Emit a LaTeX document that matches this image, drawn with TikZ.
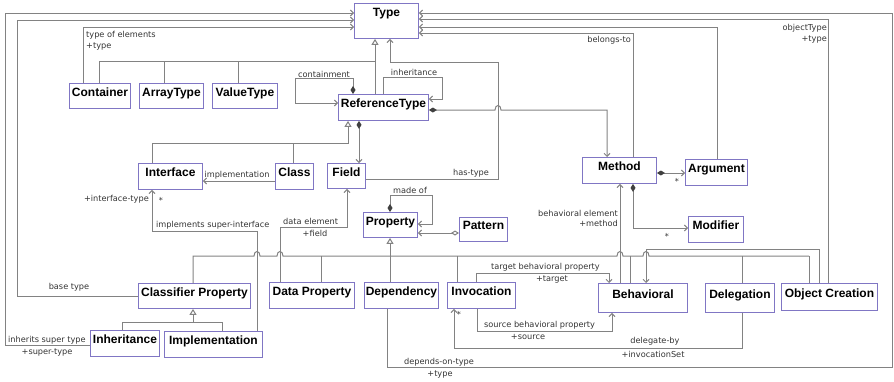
\documentclass[tikz,border=0pt]{standalone}
\usepackage{fontspec}
\usepackage{tikz}
\usetikzlibrary{arrows.meta}
\newfontfamily\clsfont{Liberation Sans}
\newfontfamily\lblfont{DejaVu Sans}
\definecolor{lgray}{RGB}{130,130,130}
\definecolor{clsborder}{RGB}{128,118,196}
\tikzset{
  cls/.style={draw=clsborder, fill=white, line width=0.9pt, inner sep=0pt, anchor=north west,
    minimum height=26pt, text height=9pt, text depth=8pt,
    font=\clsfont\bfseries\fontsize{12}{14}\selectfont},
  lbl/.style={font=\lblfont\fontsize{8.2}{9}\selectfont, text=black!80, inner sep=0pt},
  lnk/.style={draw=lgray, line width=1pt},
  assoc/.style={lnk, -{Straight Barb[length=3pt,width=6pt]}},
  gen/.style={lnk, -{Triangle[open,length=6pt,width=7pt,fill=white]}},
  comp/.style={lnk, {Diamond[length=8pt,width=5pt,color=black!75]}-{Straight Barb[length=3pt,width=6pt]}},
  aggr/.style={lnk, {Diamond[open,length=8pt,width=5pt,fill=white]}-{Straight Barb[length=3pt,width=6pt]}}
}

\begin{document}
\begin{tikzpicture}[x=1pt, y=-1pt]
  \useasboundingbox (0,0) rectangle (894,381);

  % classes
  \node[cls, minimum width=64pt, minimum height=35pt, text depth=17pt] (type) at (354,3) {Type};
  \node[cls, minimum width=61pt, minimum height=25pt] (container) at (69,83) {Container};
  \node[cls, minimum width=64pt, minimum height=25pt] (arraytype) at (139,83) {ArrayType};
  \node[cls, minimum width=65pt, minimum height=25pt] (valuetype) at (212,83) {ValueType};
  \node[cls, minimum width=90pt] (reftype) at (338,94) {ReferenceType};
  \node[cls, minimum width=64pt] (iface) at (138,163) {Interface};
  \node[cls, minimum width=38pt] (class) at (275,163) {Class};
  \node[cls, minimum width=38pt, minimum height=25pt] (field) at (327,163) {Field};
  \node[cls, minimum width=54pt, minimum height=25pt] (property) at (363,212) {Property};
  \node[cls, minimum width=48pt, minimum height=24pt] (pattern) at (459,217) {Pattern};
  \node[cls, minimum width=74pt] (method) at (582,157) {Method};
  \node[cls, minimum width=62pt] (argument) at (685,159) {Argument};
  \node[cls, minimum width=55pt] (modifier) at (688,216) {Modifier};
  \node[cls, minimum width=112pt, minimum height=25pt] (cprop) at (138,283) {Classifier Property};
  \node[cls, minimum width=69pt] (inherit) at (90,330) {Inheritance};
  \node[cls, minimum width=98pt] (impl) at (164,331) {Implementation};
  \node[cls, minimum width=85pt] (dprop) at (269,282) {Data Property};
  \node[cls, minimum width=74pt] (depend) at (364,282) {Dependency};
  \node[cls, minimum width=68pt] (invoc) at (447,282) {Invocation};
  \node[cls, minimum width=89pt, minimum height=29pt] (behav) at (598,283) {Behavioral};
  \node[cls, minimum width=69pt, minimum height=29pt] (deleg) at (705,283) {Delegation};
  \node[cls, minimum width=96pt, minimum height=27pt] (ocreate) at (781,283) {Object Creation};

  % kinds of Type
  \draw[gen] (reftype.north -| 375,0) -- (type.south -| 375,0);
  \draw[lnk] (container.north -| 99,0) |- (375,61);
  \draw[lnk] (arraytype.north -| 164,0) -- (164,61);
  \draw[lnk] (valuetype.north -| 238,0) -- (238,61);

  % links into Type, left side
  \draw[assoc] (inherit.west |- 0,345) -| (5,13) -- (type.west |- 0,13);
  \draw[assoc] (cprop.west |- 0,296) -| (17,20) -- (type.west |- 0,20);
  \draw[assoc] (container.north -| 83,0) |- (type.west |- 0,27);
  % links into Type, right side
  \draw[assoc] (depend.south -| 387,0) |- (892,367) |- (type.east |- 0,13);
  \draw[assoc] (ocreate.north -| 828,0) |- (type.east |- 0,19);
  \draw[assoc] (argument.north -| 717,0) |- (type.east |- 0,27);
  \draw[assoc] (method.north -| 633,0) |- (type.east |- 0,33);
  \draw[assoc] (field.east |- 0,179) -| (498,62) -| (type.south -| 390,0);

  % ReferenceType
  \draw[comp] (reftype.north -| 353,0) |- (295,78) |- (reftype.west |- 0,103);
  \draw[assoc] (reftype.north -| 383,0) |- (442,77) |- (reftype.east |- 0,99);
  \draw[comp] (reftype.east |- 0,110) -- (495,110) .. controls (495,104) and (501,104) .. (501,110)
    -| (method.north -| 607,0);
  \draw[gen] (iface.north -| 152,0) |- (348,143) -- (reftype.south -| 348,0);
  \draw[lnk] (class.north -| 293,0) -- (293,143);
  \draw[comp] (reftype.south -| 359,0) -- (field.north -| 359,0);
  \draw[assoc] (class.west |- 0,181) -- (iface.east |- 0,181);
  \draw[assoc] (impl.north -| 257,0) |- (152,231) -- (iface.south -| 152,0);
  \draw[assoc] (dprop.north -| 280,0) |- (347,227) -- (field.south -| 347,0);

  % Property
  \draw[comp] (property.north -| 390,0) |- (432,195) |- (property.east |- 0,224);
  \draw[aggr] (pattern.west |- 0,233) -- (property.east |- 0,233);
  \draw[gen] (depend.north -| 390,0) -- (property.south -| 390,0);
  \draw[lnk] (cprop.north -| 193,0) |- (254,256)
    .. controls (254,250) and (260,250) .. (260,256) -- (277,256)
    .. controls (277,250) and (283,250) .. (283,256) -- (617,256)
    .. controls (617,250) and (623,250) .. (623,256) -- (643,256)
    .. controls (643,250) and (649,250) .. (649,256) -- (809,256);
  \draw[lnk] (dprop.north -| 321,0) -- (321,256);
  \draw[lnk] (invoc.north -| 457,0) -- (457,256);
  \draw[lnk] (behav.north -| 630,0) -- (630,256);
  \draw[lnk] (deleg.north -| 742,0) -- (742,256);
  \draw[lnk] (ocreate.north -| 809,0) -- (809,256);

  % Classifier Property
  \draw[gen] (inherit.north -| 122,0) |- (193,322) -- (cprop.south -| 193,0);
  \draw[lnk] (impl.north -| 222,0) |- (193,322);

  % Method
  \draw[comp] (method.east |- 0,173) -- (argument.west |- 0,173);
  \draw[comp] (method.south -| 633,0) |- (modifier.west |- 0,228);
  \draw[assoc] (behav.north -| 620,0) -- (method.south -| 620,0);
  \draw[assoc] (ocreate.north -| 819,0) |- (646,249) -- (behav.north -| 646,0);

  % Invocation and Behavioral
  \draw[assoc] (invoc.north -| 476,0) |- (609,273) -- (behav.north -| 609,0);
  \draw[assoc] (invoc.south -| 477,0) |- (612,331) -- (behav.south -| 612,0);
  \draw[assoc] (deleg.south -| 742,0) |- (454,348) -- (invoc.south -| 454,0);

  % labels
  \node[lbl, anchor=west] (toeA) at (86,35) {type of elements};
  \node[lbl, anchor=west] (toeB) at (86,46) {+type};
  \node[lbl] (contL) at (324,74) {containment};
  \node[lbl] (inhL) at (414,72) {inheritance};
  \node[lbl, anchor=east] (belL) at (631,40) {belongs-to};
  \node[lbl, anchor=east] (otA) at (827,28) {objectType};
  \node[lbl, anchor=east] (otB) at (827,39) {+type};
  \node[lbl] (implL) at (237,175) {implementation};
  \node[lbl, anchor=east] (itA) at (149,199) {+interface-type};
  \node[lbl] (itB) at (161,200) {*};
  \node[lbl, anchor=west] (isiL) at (156,225) {implements super-interface};
  \node[lbl, anchor=west] (deA) at (283,221) {data element};
  \node[lbl] (deB) at (315,233) {+field};
  \node[lbl] (htL) at (471,173) {has-type};
  \node[lbl] (moL) at (410,190) {made of};
  \node[lbl, anchor=east] (beA) at (618,213) {behavioral element};
  \node[lbl, anchor=east] (beB) at (618,223) {+method};
  \node[lbl] (argM) at (677,181) {*};
  \node[lbl] (modM) at (667,236) {*};
  \node[lbl] (btL) at (69,287) {base type};
  \node[lbl, anchor=west] (istA) at (8,340) {inherits super type};
  \node[lbl] (istB) at (47,352) {+super-type};
  \node[lbl, anchor=west] (tbA) at (491,267) {target behavioral property};
  \node[lbl] (tbB) at (552,279) {+target};
  \node[lbl, anchor=west] (sbA) at (484,325) {source behavioral property};
  \node[lbl] (sbB) at (528,337) {+source};
  \node[lbl] (dbA) at (655,341) {delegate-by};
  \node[lbl] (dbB) at (653,354) {+invocationSet};
  \node[lbl] (dotA) at (439,362) {depends-on-type};
  \node[lbl] (dotB) at (440,374) {+type};
  \node[lbl] (invM) at (459,314) {*};
\end{tikzpicture}
\end{document}
